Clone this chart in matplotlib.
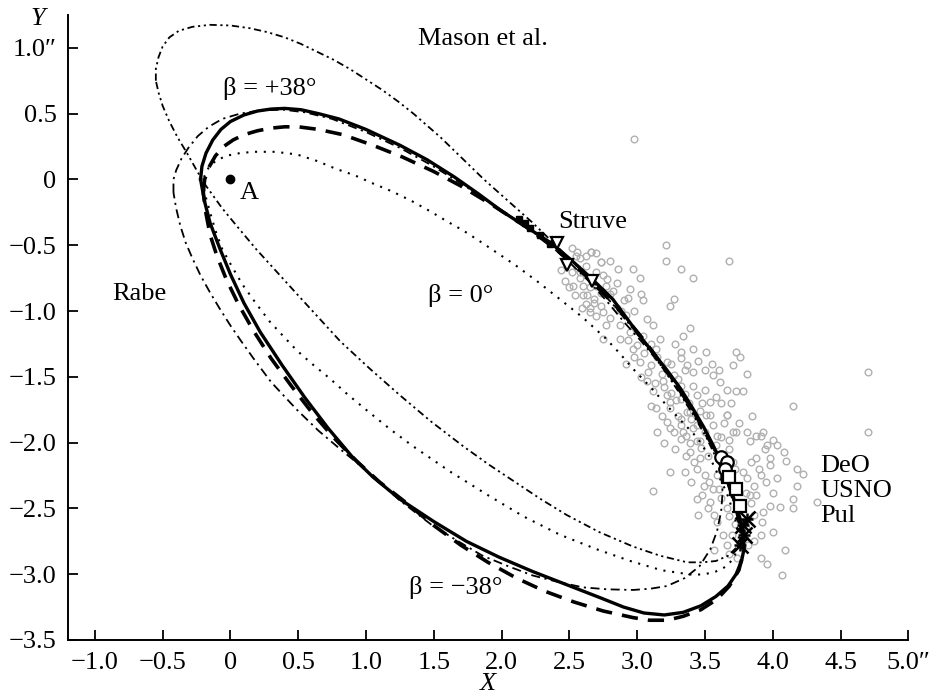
import numpy as np
import matplotlib
matplotlib.use("Agg")
import matplotlib.pyplot as plt

plt.rcParams['font.family'] = ['Liberation Serif', 'DejaVu Serif']

# --- orbits (X, Y in arcsec) ---
solid_x = [-0.22, -0.21, -0.18, -0.13, -0.07, 0.00, 0.10, 0.20, 0.30, 0.40, 0.52, 0.65, 0.80, 1.00,
           1.25, 1.45, 1.65, 1.83, 2.00, 2.18, 2.36, 2.50, 2.65, 2.82, 2.92, 3.02, 3.12, 3.22,
           3.32, 3.41, 3.49, 3.56, 3.62, 3.67, 3.72, 3.76, 3.78, 3.79, 3.77, 3.73, 3.67, 3.58,
           3.47, 3.34, 3.20, 3.05, 2.90, 2.73, 2.48, 2.23, 1.98, 1.74, 1.50, 1.25, 1.05, 0.90,
           0.72, 0.55, 0.38, 0.22, 0.10, 0.00, -0.08, -0.15, -0.19, -0.22]
solid_y = [0.00, 0.10, 0.20, 0.30, 0.38, 0.44, 0.49, 0.52, 0.535, 0.54, 0.53, 0.50, 0.46, 0.38,
           0.26, 0.15, 0.02, -0.11, -0.24, -0.36, -0.48, -0.60, -0.74, -0.91, -1.05, -1.19, -1.32, -1.45,
           -1.59, -1.74, -1.88, -2.02, -2.15, -2.28, -2.45, -2.58, -2.70, -2.80, -2.90, -3.00, -3.09, -3.17,
           -3.24, -3.29, -3.31, -3.295, -3.25, -3.18, -3.08, -2.98, -2.87, -2.75, -2.60, -2.43, -2.26, -2.11,
           -1.89, -1.66, -1.41, -1.16, -0.94, -0.72, -0.52, -0.33, -0.17, 0.00]

dash_x = [-0.20, -0.19, -0.16, -0.11, -0.05, 0.02, 0.10, 0.20, 0.30, 0.40, 0.50, 0.65, 0.83, 1.05,
          1.27, 1.50, 1.70, 1.94, 2.18, 2.40, 2.62, 2.85, 3.05, 3.25, 3.42, 3.56, 3.66, 3.73,
          3.78, 3.78, 3.75, 3.68, 3.59, 3.47, 3.34, 3.22, 3.09, 2.97, 2.75, 2.53, 2.32, 2.11,
          1.90, 1.70, 1.50, 1.30, 1.10, 0.93, 0.76, 0.60, 0.45, 0.30, 0.17, 0.06, -0.03, -0.10,
          -0.15, -0.18, -0.20]
dash_y = [-0.10, 0.00, 0.09, 0.18, 0.25, 0.30, 0.34, 0.37, 0.39, 0.40, 0.40, 0.38, 0.34, 0.26,
          0.17, 0.06, -0.05, -0.20, -0.36, -0.53, -0.73, -0.97, -1.22, -1.50, -1.77, -2.03, -2.27, -2.50,
          -2.72, -2.85, -2.97, -3.09, -3.19, -3.27, -3.32, -3.35, -3.35, -3.33, -3.28, -3.21, -3.13, -3.03,
          -2.91, -2.78, -2.63, -2.46, -2.30, -2.14, -1.96, -1.77, -1.57, -1.36, -1.15, -0.95, -0.76, -0.58,
          -0.42, -0.26, -0.10]

rabe_x = [-0.42, -0.42, -0.40, -0.36, -0.31, -0.24, -0.16, -0.06, 0.07, 0.22, 0.39, 0.55, 0.75, 1.00,
          1.25, 1.48, 1.70, 1.88, 2.05, 2.21, 2.36, 2.51, 2.65, 2.78, 2.90, 3.03, 3.15, 3.26,
          3.36, 3.45, 3.53, 3.59, 3.62, 3.63, 3.62, 3.59, 3.54, 3.46, 3.35, 3.22, 3.10, 2.97,
          2.78, 2.60, 2.42, 2.23, 2.05, 1.86, 1.68, 1.49, 1.25, 1.00, 0.81, 0.65, 0.49, 0.30,
          0.17, 0.08, 0.00, -0.08, -0.15, -0.22, -0.28, -0.33, -0.37, -0.40, -0.42]
rabe_y = [-0.10, 0.00, 0.07, 0.16, 0.24, 0.33, 0.40, 0.46, 0.50, 0.525, 0.53, 0.51, 0.46, 0.36,
          0.24, 0.11, -0.03, -0.15, -0.27, -0.38, -0.50, -0.64, -0.78, -0.93, -1.08, -1.23, -1.38, -1.53,
          -1.68, -1.83, -1.97, -2.11, -2.25, -2.38, -2.52, -2.67, -2.81, -2.94, -3.03, -3.09, -3.11, -3.12,
          -3.115, -3.10, -3.06, -3.01, -2.94, -2.86, -2.75, -2.63, -2.44, -2.21, -2.05, -1.91, -1.75, -1.54,
          -1.36, -1.23, -1.11, -0.98, -0.86, -0.73, -0.60, -0.48, -0.35, -0.22, -0.10]

beta0_x = [-0.20, -0.19, -0.16, -0.11, -0.03, 0.07, 0.17, 0.33, 0.49, 0.64, 0.78, 0.92, 1.05, 1.19,
           1.33, 1.47, 1.60, 1.72, 1.84, 1.97, 2.10, 2.27, 2.43, 2.60, 2.77, 2.87, 2.97, 3.10,
           3.22, 3.33, 3.44, 3.53, 3.60, 3.66, 3.70, 3.73, 3.75, 3.74, 3.71, 3.66, 3.58, 3.50,
           3.41, 3.18, 2.95, 2.70, 2.43, 2.16, 1.90, 1.62, 1.35, 1.18, 1.00, 0.86, 0.73, 0.60,
           0.49, 0.38, 0.29, 0.18, 0.09, 0.01, -0.06, -0.11, -0.15, -0.18, -0.20]
beta0_y = [-0.05, 0.03, 0.09, 0.14, 0.18, 0.20, 0.21, 0.21, 0.19, 0.14, 0.08, 0.03, -0.03, -0.09,
           -0.16, -0.24, -0.32, -0.39, -0.47, -0.56, -0.65, -0.78, -0.91, -1.05, -1.21, -1.32, -1.44, -1.58,
           -1.72, -1.84, -1.96, -2.10, -2.25, -2.38, -2.50, -2.61, -2.72, -2.81, -2.88, -2.94, -2.98, -3.00,
           -3.005, -2.97, -2.90, -2.81, -2.70, -2.56, -2.40, -2.22, -2.03, -1.90, -1.75, -1.63, -1.51, -1.40,
           -1.30, -1.18, -1.08, -0.93, -0.80, -0.66, -0.53, -0.39, -0.25, -0.14, -0.05]

mason_x = [-0.55, -0.55, -0.53, -0.50, -0.45, -0.38, -0.28, -0.15, 0.00, 0.14, 0.27, 0.40, 0.52, 0.64,
           0.76, 0.88, 1.00, 1.12, 1.24, 1.35, 1.45, 1.55, 1.65, 1.75, 1.87, 1.99, 2.11, 2.23,
           2.34, 2.45, 2.57, 2.70, 2.83, 2.95, 3.08, 3.20, 3.31, 3.42, 3.51, 3.58, 3.65, 3.70,
           3.74, 3.76, 3.76, 3.73, 3.67, 3.58, 3.48, 3.37, 3.17, 2.97, 2.72, 2.48, 2.29, 2.10,
           1.91, 1.72, 1.48, 1.25, 1.03, 0.81, 0.65, 0.49, 0.34, 0.19, 0.06, -0.06, -0.13, -0.20,
           -0.26, -0.32, -0.39, -0.45, -0.50, -0.53, -0.55]
mason_y = [0.75, 0.84, 0.93, 1.01, 1.08, 1.13, 1.16, 1.175, 1.17, 1.15, 1.12, 1.08, 1.03, 0.97,
           0.91, 0.84, 0.76, 0.68, 0.59, 0.50, 0.41, 0.32, 0.22, 0.12, 0.00, -0.11, -0.22, -0.33,
           -0.44, -0.55, -0.67, -0.81, -0.96, -1.11, -1.28, -1.45, -1.62, -1.80, -1.96, -2.11, -2.26, -2.41,
           -2.54, -2.64, -2.73, -2.80, -2.86, -2.90, -2.91, -2.91, -2.86, -2.79, -2.68, -2.55, -2.43, -2.30,
           -2.17, -2.03, -1.84, -1.64, -1.44, -1.23, -1.05, -0.87, -0.70, -0.53, -0.37, -0.22, -0.12, -0.02,
           0.09, 0.20, 0.32, 0.44, 0.56, 0.66, 0.75]

# --- observations (grey circles) ---
obs_x = [2.98, 3.21, 3.21, 3.68, 3.32, 3.41, 2.97, 3.02, 2.66, 2.55, 2.58, 2.73, 2.50, 2.54, 2.65,
         2.60, 2.68, 2.73, 2.77, 2.85, 2.95, 3.03, 3.04, 3.27, 3.24, 2.65, 2.75, 2.85, 2.92, 2.77,
         2.87, 2.95, 3.07, 3.12, 3.04, 3.17, 3.39, 3.34, 2.75, 2.87, 2.97, 3.14, 3.32, 3.41, 3.51,
         3.73, 3.76, 3.71, 3.81, 3.02, 3.10, 3.22, 3.32, 3.37, 3.41, 3.56, 3.61, 3.66, 3.73, 3.78,
         3.07, 3.19, 3.27, 3.32, 3.41, 3.12, 3.22, 3.32, 3.44, 3.54, 3.10, 3.24, 3.37, 3.51, 3.56,
         3.66, 3.22, 3.32, 3.41, 3.71, 3.81, 3.91, 3.96, 3.32, 3.44,
         4.15, 4.70, 3.66, 3.73, 3.93, 3.83, 4.03, 4.08, 3.88, 3.98, 4.10, 3.98, 4.18, 4.22, 3.91,
         3.81, 4.03, 4.18, 3.86, 3.83, 4.15, 4.33, 3.98, 4.05, 4.15, 3.93, 3.86, 4.00, 3.91, 3.86,
         4.09, 3.91, 3.96, 4.07, 3.44, 3.46, 3.24, 3.12, 3.44, 3.49, 3.45, 3.59, 3.66, 3.63, 3.66,
         3.68, 3.71, 3.59, 3.56, 3.54, 3.39, 3.32, 3.24, 3.34, 3.44, 3.54, 3.46, 3.39, 3.59, 3.24,
         3.14, 2.56, 2.66, 2.73, 2.53, 2.60, 2.70, 2.63, 2.75, 2.80, 2.59, 2.65, 2.73, 2.58, 4.70,
         2.62, 2.70, 2.78, 2.58, 2.68, 2.82, 2.90, 2.80, 2.70, 2.62, 2.88, 2.93, 2.98, 2.52, 2.47,
         2.56, 2.93, 3.00, 3.05, 3.10, 3.08, 2.98, 3.15, 3.18, 3.20, 3.25, 3.28, 3.30, 3.35, 3.13,
         3.03, 2.92, 3.45, 3.50, 3.55, 3.60, 3.25, 3.29, 3.35, 3.38, 3.30, 3.27, 3.36, 3.40, 3.46,
         3.48, 3.50, 3.58, 3.62, 3.64, 3.50, 3.47, 3.39, 3.28, 3.18, 3.15, 3.20, 3.36, 3.42, 3.52,
         3.58, 3.62, 3.68, 3.75, 3.69, 3.85, 3.50, 3.53, 3.48, 3.52, 3.57, 3.62, 3.72, 3.78, 3.84,
         3.80, 3.84, 3.88, 3.92, 3.80, 3.72, 3.68, 3.70, 3.82, 3.74, 3.68, 3.90, 3.95, 4.00, 3.94,
         3.88, 4.00, 3.60, 3.40, 3.35, 3.57, 2.52, 2.62, 2.70, 2.80, 2.86, 2.47, 2.44]
obs_y = [0.31, -0.50, -0.62, -0.62, -0.68, -0.75, -0.68, -0.75, -0.55, -0.58, -0.60, -0.63, -0.82,
         -0.88, -0.82, -0.88, -0.91, -0.86, -0.81, -0.79, -0.83, -0.87, -0.92, -0.91, -0.96, -0.98,
         -1.01, -0.98, -1.03, -1.11, -1.11, -1.16, -1.06, -1.11, -1.19, -1.21, -1.13, -1.19, -1.21,
         -1.21, -1.29, -1.29, -1.31, -1.29, -1.31, -1.31, -1.35, -1.41, -1.48, -1.39, -1.41, -1.39,
         -1.36, -1.41, -1.46, -1.49, -1.54, -1.60, -1.61, -1.61, -1.53, -1.53, -1.49, -1.57, -1.57,
         -1.61, -1.64, -1.67, -1.64, -1.69, -1.72, -1.74, -1.77, -1.79, -1.87, -1.79, -1.84, -1.87,
         -1.89, -1.92, -1.92, -1.95, -2.02, -1.97, -1.99,
         -1.72, -1.92, -1.79, -1.92, -1.92, -1.99, -2.02, -2.07, -2.12, -2.12, -2.14, -2.17, -2.20,
         -2.24, -2.25, -2.27, -2.27, -2.33, -2.33, -2.40, -2.43, -2.45, -2.48, -2.49, -2.50, -2.53,
         -2.55, -2.68, -2.70, -2.75, -2.82, -2.88, -2.92, -3.01, -2.20, -2.12, -2.22, -2.37, -2.43,
         -2.33, -2.55, -2.60, -2.50, -2.70, -2.78, -2.05, -2.15, -2.25, -2.35, -2.45, -1.77, -1.82,
         -1.89, -1.92, -1.87, -1.79, -1.99, -2.07, -1.95, -1.69, -1.74, -0.55, -0.55, -0.63, -0.81,
         -0.81, -0.81, -0.88, -0.73, -0.87, -0.98, -1.01, -0.96, -0.70, -1.46,
         -0.66, -0.70, -0.76, -0.75, -0.94, -0.85, -0.92, -1.05, -1.04, -0.95, -1.00, -0.90, -1.00,
         -0.70, -0.62, -0.67, -1.22, -1.26, -1.32, -1.25, -1.46, -1.35, -1.35, -1.48, -1.58, -1.40,
         -1.25, -1.52, -1.45, -1.55, -1.50, -1.40, -1.38, -1.45, -1.40, -1.45, -1.62, -1.68, -1.63,
         -1.70, -1.80, -1.92, -1.95, -1.82, -1.76, -1.70, -1.60, -1.65, -1.70, -1.85, -1.92, -2.04,
         -2.00, -2.05, -1.80, -1.92, -2.00, -2.10, -2.15, -2.10, -2.02, -1.96, -1.98, -1.85, -1.70,
         -1.80, -2.25, -2.30, -2.40, -2.50, -2.55, -2.42, -2.20, -2.22, -2.15, -2.38, -2.46, -2.40,
         -2.60, -2.65, -2.62, -2.56, -2.70, -2.78, -2.88, -2.85, -2.20, -2.30, -2.38, -2.05, -1.95,
         -1.98, -2.35, -2.30, -2.22, -2.82, -0.52, -0.58, -0.56, -0.62, -0.68, -0.77, -0.69]

# --- individual series of measurements ---
struve_x = [2.41, 2.48, 2.67]
struve_y = [-0.48, -0.65, -0.77]
struve_blob_x = [2.13, 2.17, 2.21, 2.28, 2.36]
struve_blob_y = [-0.30, -0.33, -0.37, -0.42, -0.49]
deo_x = [3.62, 3.66, 3.65]
deo_y = [-2.11, -2.15, -2.20]
usno_x = [3.68, 3.73, 3.76]
usno_y = [-2.26, -2.35, -2.48]
pul_x = [3.81, 3.78, 3.79, 3.76]
pul_y = [-2.58, -2.63, -2.70, -2.78]
point_a = (0.0, 0.0)

xticks = [-1.0, -0.5, 0, 0.5, 1.0, 1.5, 2.0, 2.5, 3.0, 3.5, 4.0, 4.5, 5.0]
xtick_labels = ['\u22121.0', '\u22120.5', '0', '0.5', '1.0', '1.5', '2.0', '2.5', '3.0', '3.5',
                '4.0', '4.5', '5.0\u2033']
yticks = [1.0, 0.5, 0, -0.5, -1.0, -1.5, -2.0, -2.5, -3.0, -3.5]
ytick_labels = ['1.0\u2033', '0.5', '0', '\u22120.5', '\u22121.0', '\u22121.5', '\u22122.0',
                '\u22122.5', '\u22123.0', '\u22123.5']

fig = plt.figure(figsize=(9.34, 6.96), dpi=100)
ax = fig.add_axes([0.0725, 0.0805, 0.900, 0.898])

ax.plot(obs_x, obs_y, 'o', ms=4.8, mfc='none', mec='#b0b0b0', mew=1.0, zorder=1)

ax.plot(mason_x, mason_y, color='black', lw=1.3, dashes=(4, 2, 1.2, 2, 1.2, 2), zorder=2)
ax.plot(rabe_x, rabe_y, color='black', lw=1.3, dashes=(5, 2.5, 1.2, 2.5), zorder=2)
ax.plot(beta0_x, beta0_y, color='black', lw=1.5, dashes=(1, 3.2), zorder=2)
ax.plot(dash_x, dash_y, color='black', lw=2.6, dashes=(4.5, 2.8), zorder=3)
ax.plot(solid_x, solid_y, color='black', lw=2.4, zorder=3)

ax.plot(struve_x, struve_y, 'v', ms=8, mfc='white', mec='black', mew=1.6, zorder=4)
ax.plot(struve_blob_x, struve_blob_y, 's', ms=5, color='black', zorder=4)
ax.plot(deo_x, deo_y, 'o', ms=9, mfc='white', mec='black', mew=1.6, zorder=4)
ax.plot(usno_x, usno_y, 's', ms=8, mfc='white', mec='black', mew=1.6, zorder=4)
ax.plot(pul_x, pul_y, 'x', ms=11, color='black', mew=1.8, zorder=4)
ax.plot(pul_x, pul_y, '+', ms=9, color='black', mew=1.8, zorder=4)
ax.plot(*point_a, 'o', ms=6, color='black', zorder=4)

fs = 19
ax.text(1.86, 1.07, 'Mason et al.', fontsize=fs, ha='center', va='center')
ax.text(0.29, 0.69, '\u03b2 = +38\u00b0', fontsize=fs, ha='center', va='center')
ax.text(2.67, -0.32, 'Struve', fontsize=fs, ha='center', va='center')
ax.text(-0.67, -0.87, 'Rabe', fontsize=fs, ha='center', va='center')
ax.text(1.70, -0.88, '\u03b2 = 0\u00b0', fontsize=fs, ha='center', va='center')
ax.text(1.66, -3.10, '\u03b2 = \u221238\u00b0', fontsize=fs, ha='center', va='center')
ax.text(4.35, -2.18, 'DeO', fontsize=fs, ha='left', va='center')
ax.text(4.35, -2.37, 'USNO', fontsize=fs, ha='left', va='center')
ax.text(4.35, -2.56, 'Pul', fontsize=fs, ha='left', va='center')
ax.text(0.14, -0.10, 'A', fontsize=fs, ha='center', va='center')

fig.text(38 / 934, 1 - 19 / 696, 'Y', fontsize=fs, style='italic', ha='center', va='center')
fig.text(488 / 934, 1 - 684 / 696, 'X', fontsize=fs, style='italic', ha='center', va='center')

ax.set_xlim(-1.2, 5.0)
ax.set_ylim(-3.5, 1.25)
ax.set_xticks(xticks)
ax.set_xticklabels(xtick_labels)
ax.set_yticks(yticks)
ax.set_yticklabels(ytick_labels)
ax.tick_params(direction='in', length=7, width=1.3, labelsize=fs)
ax.tick_params(axis='x', pad=9)
ax.tick_params(axis='y', pad=8)
for side in ['top', 'right']:
    ax.spines[side].set_visible(False)
for side in ['left', 'bottom']:
    ax.spines[side].set_linewidth(1.4)

fig.savefig('out.png', dpi=100)
